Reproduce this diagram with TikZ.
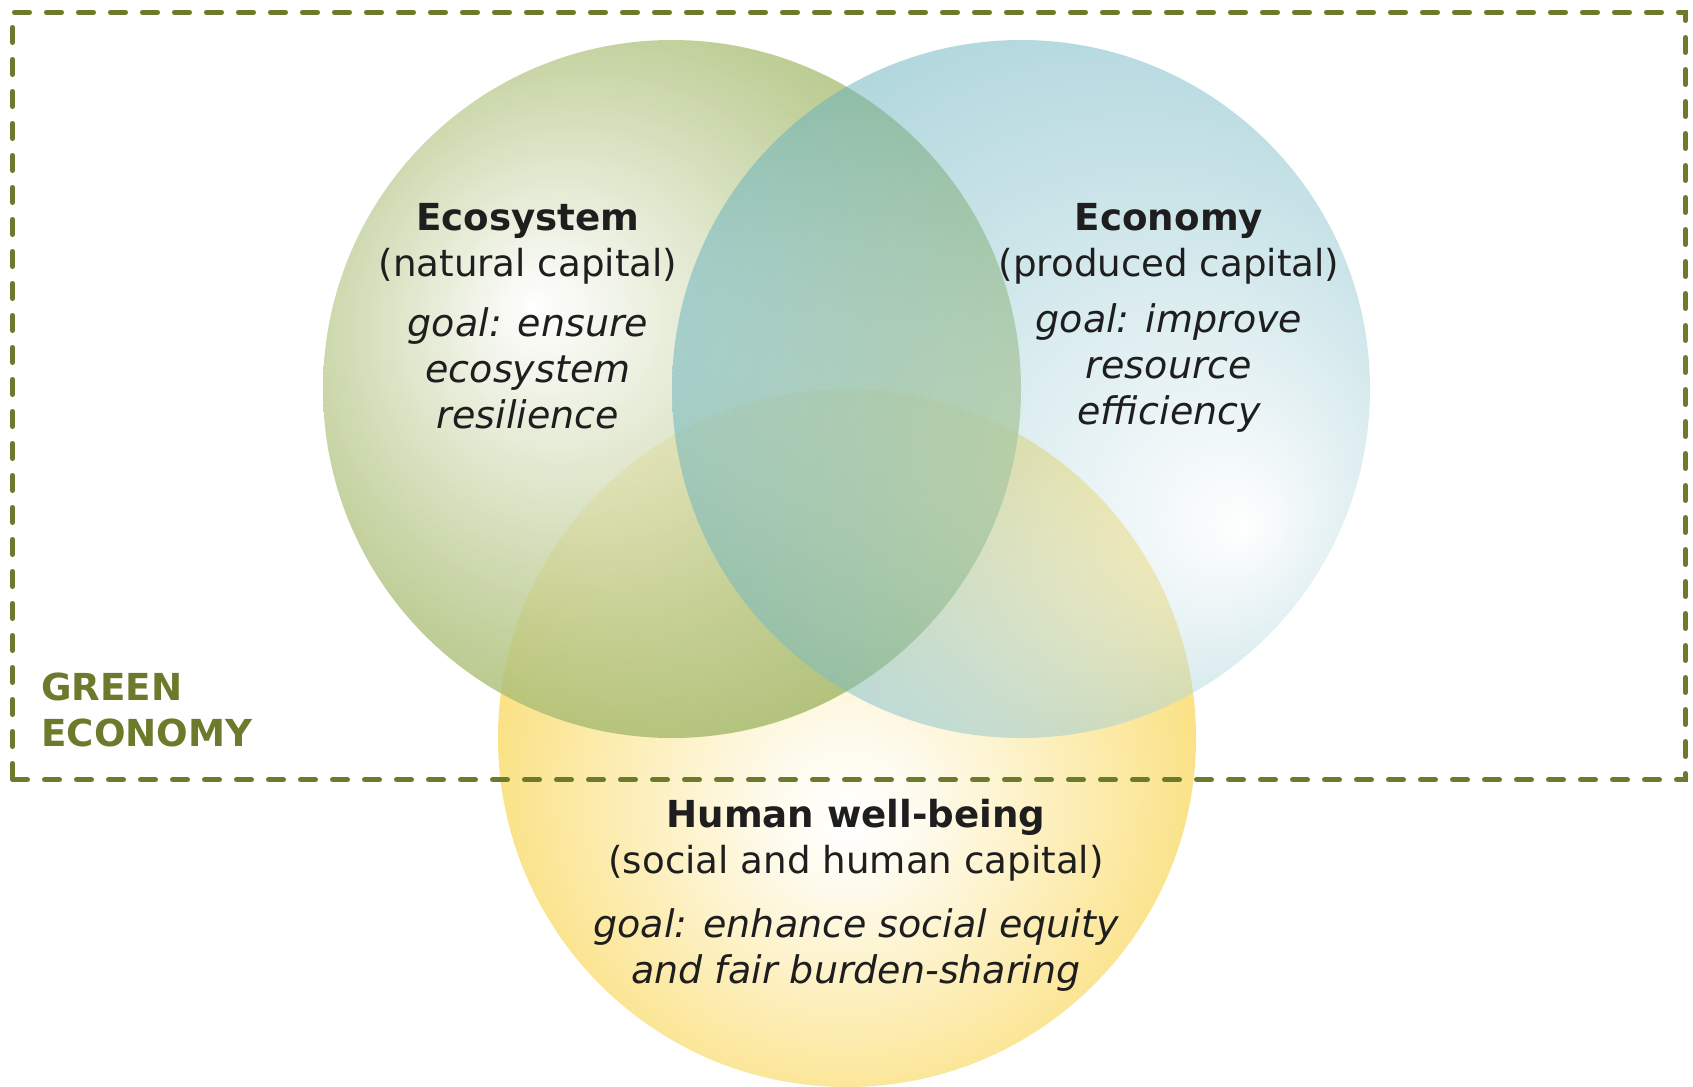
\documentclass[tikz,border=0pt]{standalone}
\usepackage{fontspec}
\setmainfont{DejaVu Sans}
\definecolor{Gc}{HTML}{86A23A}
\definecolor{Bc}{HTML}{43A0B0}
\definecolor{Yc}{HTML}{F8CF38}
\definecolor{geolive}{HTML}{6B7B2B}
\definecolor{txt}{HTML}{1E1E1E}
\pgfdeclareradialshading{gshade}{\pgfpoint{-10bp}{6bp}}{color(0bp)=(white); color(3bp)=(Gc!8!white); color(20bp)=(Gc!55!white); color(34bp)=(Gc!88!white); color(44bp)=(Gc); color(50bp)=(Gc)}
\pgfdeclareradialshading{bshade}{\pgfpoint{16bp}{-10bp}}{color(0bp)=(white); color(3bp)=(Bc!8!white); color(20bp)=(Bc!55!white); color(34bp)=(Bc!88!white); color(44bp)=(Bc); color(50bp)=(Bc)}
\pgfdeclareradialshading{yshade}{\pgfpoint{0bp}{-6bp}}{color(0bp)=(white); color(5bp)=(Yc!8!white); color(22bp)=(Yc!52!white); color(36bp)=(Yc!90!white); color(45bp)=(Yc); color(50bp)=(Yc)}
\tikzset{
  venn/.style={circle, inner sep=0pt, minimum size=349pt},
  label block/.style={align=center, text=txt, font=\fontsize{18.6}{23}\selectfont, inner sep=0pt},
  goal block/.style={label block, font=\fontsize{19}{23}\selectfont\itshape},
  frame/.style={draw=geolive, line width=2.5pt, dash pattern=on 7.5pt off 8.5pt, line cap=round, inner sep=0pt, anchor=north west},
}
\begin{document}
\begin{tikzpicture}[x=0.5pt,y=-0.5pt]
\fill[white] (0,0) rectangle (1693,1087);
\useasboundingbox (0,0) rectangle (1693,1087);
\node[venn, shading=yshade] (human) at (847,738) {};
\node[venn, shading=gshade, fill opacity=0.82] (eco) at (672,389) {};
\node[venn, shading=bshade, fill opacity=0.5] (econ) at (1021,389) {};
\node[frame, minimum width=836.5pt, minimum height=383.5pt] (ge) at (10,10) {};
\node[label block] (ecoT) at (528,244) {\textbf{Ecosystem}\\(natural capital)};
\node[goal block] (ecoG) at (528,368) {goal: ensure\\ecosystem\\resilience};
\node[label block] (econT) at (1169,244) {\textbf{Economy}\\(produced capital)};
\node[goal block] (econG) at (1169,368) {goal: improve\\resource\\efficiency};
\node[label block] (humT) at (856,840) {\textbf{Human well-being}\\(social and human capital)};
\node[goal block] (humG) at (856,950) {goal: enhance social equity\\and fair burden-sharing};
\node[label block, align=left, anchor=west, text=geolive, font=\fontsize{18.6}{23}\selectfont\bfseries] (geT) at (41,710) {GREEN\\ECONOMY};
\end{tikzpicture}
\end{document}
